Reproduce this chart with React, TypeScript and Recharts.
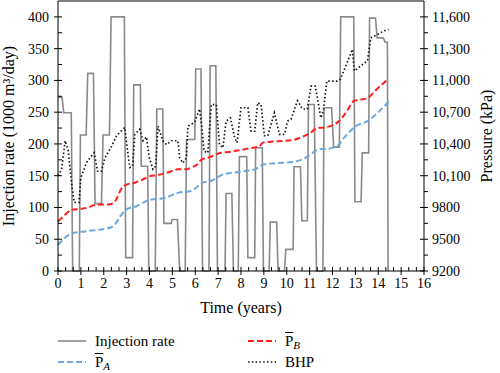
import React from 'react';
import { LineChart, Line, XAxis, YAxis, ReferenceLine } from 'recharts';

// injection rate (1000 m3/day) — step-like schedule
const injTime = [
  0, 0.18, 0.25, 0.58, 0.64, 0.93, 0.98, 1.23, 1.3, 1.55, 1.62, 1.9, 1.97, 2.25, 2.32, 2.9,
  2.96, 3.26, 3.31, 3.6, 3.64, 3.92, 3.97, 4.25, 4.32, 4.58, 4.63, 4.95, 4.98, 5.22, 5.32,
  5.56, 5.62, 5.98, 6.02, 6.25, 6.32, 6.6, 6.65, 6.9, 6.97, 7.3, 7.35, 7.6, 7.67, 7.88, 7.93,
  8.25, 8.3, 8.6, 8.64, 8.93, 8.98, 9.23, 9.28, 9.56, 9.62, 9.9, 9.96, 10.28, 10.32, 10.6,
  10.66, 10.9, 10.95, 11.2, 11.3, 11.58, 11.63, 11.96, 12.05, 12.3, 12.36, 12.93, 12.98,
  13.25, 13.3, 13.58, 13.62, 13.88, 13.95, 14.22, 14.3, 14.4, 14.43,
];
const injRate = [
  274, 273, 249, 249, 0, 0, 214, 214, 311, 311, 106, 106, 214, 214, 400, 400,
  21, 21, 293, 293, 165, 165, 0, 0, 255, 255, 75, 75, 81, 81, 0,
  0, 207, 207, 318, 318, 0, 0, 323, 323, 0, 0, 122, 122, 0, 0, 180,
  180, 21, 21, 194, 194, 0, 0, 77, 77, 0, 0, 34, 34, 164, 164,
  79, 79, 262, 262, 0, 0, 257, 257, 195, 195, 400, 400, 109,
  109, 186, 186, 398, 398, 367, 367, 360, 360, 0,
];

// mean pressure of region B (kPa)
const pbTime = [
  0, 0.3, 0.57, 1.0, 1.32, 1.6, 2.27, 2.5, 2.78, 3.0, 3.36, 3.7, 4.0, 4.37, 4.8, 5.24, 5.6,
  5.83, 6.1, 6.26, 6.7, 6.95, 7.13, 7.6, 7.93, 8.5, 8.8, 8.95, 9.5, 10.26, 10.6, 11.06,
  11.32, 11.64, 12.22, 12.6, 12.95, 13.53, 13.9, 14.4,
];
const pbKpa = [
  9668, 9728, 9776, 9788, 9800, 9824, 9830, 9860, 9980, 10016, 10034, 10064, 10094, 10106,
  10130, 10160, 10160, 10178, 10208, 10250, 10280, 10304, 10316, 10328, 10340, 10364, 10376,
  10412, 10424, 10436, 10460, 10508, 10550, 10556, 10604, 10700, 10808, 10832, 10910, 11006,
];

// mean pressure of region A (kPa)
const paTime = [
  0, 0.3, 0.57, 1.32, 2.27, 2.48, 2.8, 2.99, 3.43, 4.01, 4.66, 5.24, 5.83, 6.1, 6.33, 6.7,
  7.0, 7.21, 7.93, 8.59, 9.02, 10.33, 10.7, 11.06, 11.42, 11.64, 12.22, 12.51, 13.02, 13.53,
  14.0, 14.47,
];
const paKpa = [
  9446, 9512, 9554, 9578, 9608, 9638, 9740, 9782, 9812, 9872, 9890, 9938, 9956, 9998, 10034,
  10052, 10088, 10112, 10136, 10160, 10208, 10232, 10256, 10304, 10352, 10352, 10382, 10460,
  10568, 10616, 10700, 10802,
];

// bottom-hole pressure (kPa)
const bhpTime = [
  0, 0.16, 0.31, 0.45, 0.6, 0.71, 0.92, 1.0, 1.25, 1.58, 1.73, 1.9, 2.05, 2.31, 2.56, 2.92,
  3.04, 3.14, 3.26, 3.36, 3.57, 3.72, 3.87, 3.98, 4.15, 4.27, 4.37, 4.59, 4.74, 4.96, 5.24,
  5.32, 5.46, 5.61, 5.68, 5.97, 6.19, 6.29, 6.38, 6.55, 6.7, 6.92, 7.06, 7.21, 7.35, 7.54,
  7.72, 7.83, 8.0, 8.3, 8.44, 8.6, 8.73, 8.88, 9.02, 9.17, 9.46, 9.68, 9.9, 10.04, 10.19,
  10.47, 10.69, 10.9, 11.06, 11.25, 11.49, 11.6, 11.75, 12.2, 12.35, 12.87, 12.95, 13.53,
  13.67, 13.96, 14.25, 14.45,
];
const bhpKpa = [
  10100, 10160, 10430, 10334, 10016, 9848, 9848, 10082, 10226, 10316, 10142, 10142, 10268,
  10364, 10478, 10556, 10334, 10178, 10190, 10490, 10538, 10430, 10466, 10280, 10160, 10190,
  10568, 10430, 10394, 10430, 10430, 10268, 10220, 10268, 10568, 10604, 10730, 10556, 10334,
  10316, 10772, 10772, 10394, 10364, 10616, 10646, 10460, 10412, 10742, 10742, 10520, 10520,
  10790, 10772, 10478, 10478, 10694, 10490, 10490, 10616, 10634, 10808, 10730, 10730, 10946,
  10946, 10646, 10712, 10994, 10994, 11012, 11294, 11090, 11186, 11402, 11432, 11468, 11480,
];

const xMajor = [0, 1, 2, 3, 4, 5, 6, 7, 8, 9, 10, 11, 12, 13, 14, 15, 16];
const xTicks = xMajor.flatMap(t => (t < 16 ? [t, t + 1 / 3, t + 2 / 3] : [t]));
const leftMajor = [0, 50, 100, 150, 200, 250, 300, 350, 400];
const leftTicks = leftMajor.flatMap(v => (v < 400 ? [v, v + 25] : [v]));
const rightMajor = [9200, 9500, 9800, 10100, 10400, 10700, 11000, 11300, 11600];
const rightTicks = rightMajor.flatMap(v => (v < 11600 ? [v, v + 150] : [v]));

const toRows = (ts: number[], vs: number[]) => ts.map((t, i) => ({ t, v: vs[i] }));
const injData = toRows(injTime, injRate);
const pbData = toRows(pbTime, pbKpa);
const paData = toRows(paTime, paKpa);
const bhpData = toRows(bhpTime, bhpKpa);

const FONT = '"Liberation Serif", "DejaVu Serif", serif';
const PLOT_LEFT = 58;
const PLOT_RIGHT = 424;
const PLOT_BOTTOM = 271;

const fmtKpa = (v: number) => (v >= 10000 ? v.toLocaleString('en-US') : String(v));

const LeftTick = (props: any) => {
  const { y, payload } = props;
  const major = leftMajor.includes(payload.value);
  return (
    <g>
      <line x1={major ? 54 : PLOT_LEFT} x2={PLOT_LEFT + 4} y1={y} y2={y} stroke="#000" />
      {major && (
        <text x={49} y={y + 5} textAnchor="end" fontSize={14} fontFamily={FONT} fill="#000">
          {payload.value}
        </text>
      )}
    </g>
  );
};

const RightTick = (props: any) => {
  const { y, payload } = props;
  const major = rightMajor.includes(payload.value);
  return (
    <g>
      <line x1={major ? PLOT_RIGHT - 4 : PLOT_RIGHT} x2={PLOT_RIGHT + 4} y1={y} y2={y} stroke="#000" />
      {major && (
        <text x={432} y={y + 5} textAnchor="start" fontSize={14} fontFamily={FONT} fill="#000">
          {fmtKpa(payload.value)}
        </text>
      )}
    </g>
  );
};

const BottomTick = (props: any) => {
  const { x, payload } = props;
  const major = xMajor.includes(payload.value);
  return (
    <g>
      <line x1={x} x2={x} y1={PLOT_BOTTOM - 4} y2={major ? PLOT_BOTTOM + 4 : PLOT_BOTTOM} stroke="#000" />
      {major && (
        <text x={x} y={PLOT_BOTTOM + 17} textAnchor="middle" fontSize={14} fontFamily={FONT} fill="#000">
          {payload.value}
        </text>
      )}
    </g>
  );
};

const Swatch = ({ color, dash, width }: { color: string; dash?: string; width: number }) => (
  <svg width={30} height={6} style={{ position: 'absolute', left: 0, top: 6 }}>
    <line x1={0} x2={28} y1={3} y2={3} stroke={color} strokeWidth={width} strokeDasharray={dash} />
  </svg>
);

const legendItem = (left: number, top: number, swatch: React.ReactNode, label: React.ReactNode) => (
  <div style={{ position: 'absolute', left, top, height: 18 }}>
    {swatch}
    <span style={{ position: 'absolute', left: 37, top: 0, whiteSpace: 'nowrap', lineHeight: '18px' }}>
      {label}
    </span>
  </div>
);

const Pbar = ({ sub }: { sub: string }) => (
  <>
    <span style={{ textDecoration: 'overline' }}>P</span>
    <span style={{ fontStyle: 'italic', fontSize: 11, position: 'relative', top: 3 }}>{sub}</span>
  </>
);

export default function App() {
  return (
    <div
      style={{
        position: 'absolute',
        left: 0,
        top: 0,
        width: 500,
        height: 373,
        background: '#fff',
        fontFamily: FONT,
        fontSize: 15,
        color: '#000',
      }}
    >
      <LineChart width={500} height={320} margin={{ top: 1, right: 0, bottom: 0, left: 0 }}>
        <XAxis
          xAxisId="x"
          dataKey="t"
          type="number"
          domain={[0, 16]}
          ticks={xTicks}
          interval={0}
          tick={<BottomTick />}
          tickLine={false}
          axisLine={{ stroke: '#000' }}
          height={49}
          label={{
            content: () => (
              <text x={241} y={313} textAnchor="middle" fontSize={16} fontFamily={FONT} fill="#000">
                Time (years)
              </text>
            ),
          }}
        />
        <YAxis
          yAxisId="left"
          type="number"
          domain={[0, 425]}
          ticks={leftTicks}
          interval={0}
          tick={<LeftTick />}
          tickLine={false}
          axisLine={{ stroke: '#000' }}
          width={PLOT_LEFT}
          label={{
            content: () => (
              <text
                x={14}
                y={136}
                transform="rotate(-90 14 136)"
                textAnchor="middle"
                fontSize={16}
                fontFamily={FONT}
                fill="#000"
              >
                Injection rate (1000 m³/day)
              </text>
            ),
          }}
        />
        <YAxis
          yAxisId="right"
          orientation="right"
          type="number"
          domain={[9200, 11750]}
          ticks={rightTicks}
          interval={0}
          tick={<RightTick />}
          tickLine={false}
          axisLine={{ stroke: '#000' }}
          width={500 - PLOT_RIGHT}
          label={{
            content: () => (
              <text
                x={492}
                y={136}
                transform="rotate(-90 492 136)"
                textAnchor="middle"
                fontSize={16}
                fontFamily={FONT}
                fill="#000"
              >
                Pressure (kPa)
              </text>
            ),
          }}
        />
        <ReferenceLine xAxisId="x" yAxisId="left" y={425} stroke="#000" strokeWidth={1.2} />
        <Line
          xAxisId="x"
          yAxisId="left"
          data={injData}
          dataKey="v"
          type="linear"
          stroke="#8a8a8a"
          strokeWidth={1.6}
          dot={false}
          activeDot={false}
          isAnimationActive={false}
        />
        <Line
          xAxisId="x"
          yAxisId="right"
          data={paData}
          dataKey="v"
          type="monotone"
          stroke="#6fa8dc"
          strokeWidth={2}
          strokeDasharray="6 3"
          dot={false}
          activeDot={false}
          isAnimationActive={false}
        />
        <Line
          xAxisId="x"
          yAxisId="right"
          data={pbData}
          dataKey="v"
          type="monotone"
          stroke="#ff1f1f"
          strokeWidth={2}
          strokeDasharray="6 3"
          dot={false}
          activeDot={false}
          isAnimationActive={false}
        />
        <Line
          xAxisId="x"
          yAxisId="right"
          data={bhpData}
          dataKey="v"
          type="linear"
          stroke="#111"
          strokeWidth={1.7}
          strokeDasharray="1.5 2.3"
          dot={false}
          activeDot={false}
          isAnimationActive={false}
        />
      </LineChart>

      {legendItem(58, 332, <Swatch color="#8a8a8a" width={1.6} />, 'Injection rate')}
      {legendItem(248, 332, <Swatch color="#ff1f1f" width={2} dash="6 3" />, <Pbar sub="B" />)}
      {legendItem(58, 353, <Swatch color="#6fa8dc" width={2} dash="6 3" />, <Pbar sub="A" />)}
      {legendItem(248, 353, <Swatch color="#111" width={1.7} dash="1.5 2.3" />, 'BHP')}
    </div>
  );
}
